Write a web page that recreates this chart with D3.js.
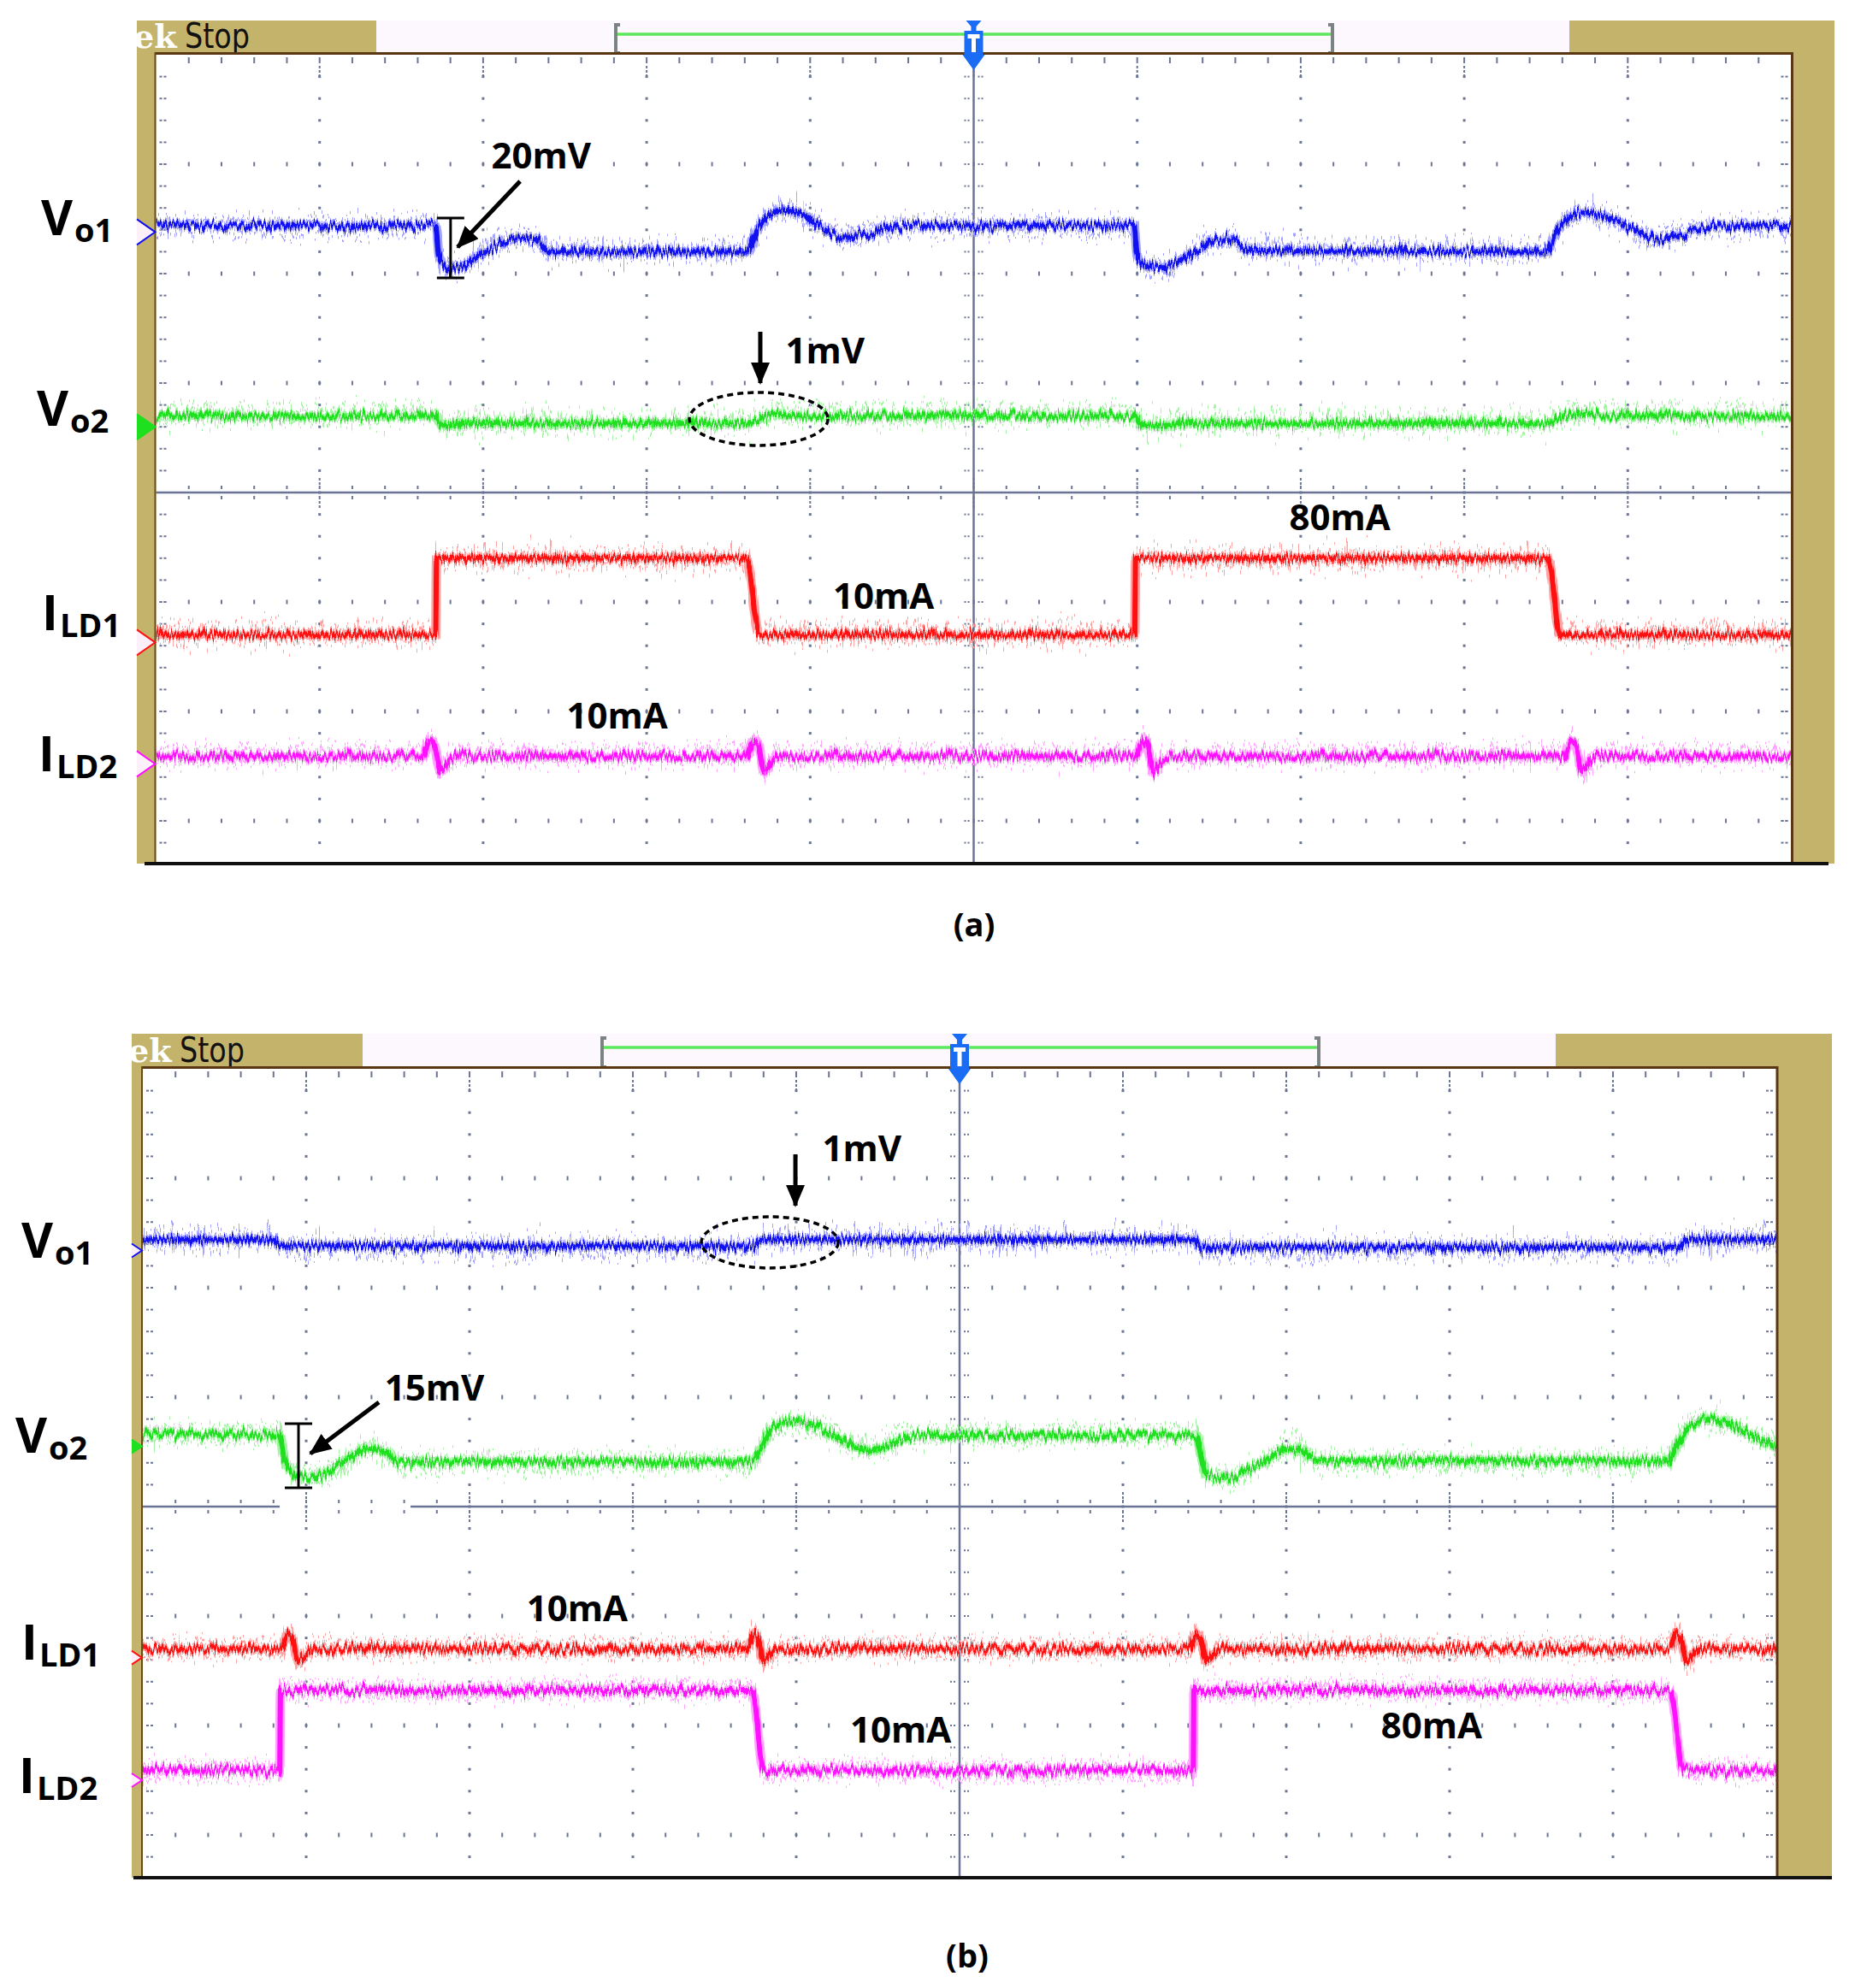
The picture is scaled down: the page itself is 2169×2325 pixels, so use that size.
<!DOCTYPE html>
<html>
<head>
<meta charset="utf-8">
<script src="https://cdn.jsdelivr.net/npm/d3@7"></script>
<style>
  body { margin: 0; background: #fff; }
  svg { display: block; }
</style>
</head>
<body>
<svg width="2169" height="2325"></svg>
<script>
// scope traces, time in divisions (0..10), level in divisions from centre (+4 top, -4 bottom)

// ---- panel (a) ----
var vo1A = [[0,2.44],[1.71,2.44],[1.73,2.16],[1.78,2.05],[1.84,2.05],[1.97,2.16],[2.13,2.29],[2.25,2.32],[2.34,2.30],[2.40,2.20],
  [3.62,2.20],[3.67,2.39],[3.75,2.53],[3.83,2.58],[3.94,2.55],[4.07,2.43],[4.20,2.34],[4.33,2.36],[4.49,2.42],[4.59,2.44],
  [5.98,2.44],[6.00,2.16],[6.05,2.08],[6.16,2.06],[6.26,2.12],[6.39,2.23],[6.50,2.31],[6.60,2.29],[6.68,2.21],
  [8.50,2.20],[8.57,2.39],[8.64,2.51],[8.72,2.56],[8.88,2.51],[9.04,2.39],[9.19,2.31],[9.38,2.38],[9.51,2.43],[10,2.44]];
var vo2A = [[0,0.70],[1.71,0.70],[1.74,0.62],[1.80,0.61],[1.90,0.63],[3.62,0.63],[3.70,0.68],[3.80,0.72],[3.95,0.70],
  [5.98,0.70],[6.02,0.62],[6.15,0.61],[6.30,0.63],[8.50,0.63],[8.58,0.68],[8.70,0.72],[8.85,0.70],[10,0.70]];
var ild1A = [[0,-1.30],[1.71,-1.30],[1.715,-0.60],[3.61,-0.60],[3.69,-1.30],[5.985,-1.30],[5.99,-0.60],[8.51,-0.60],[8.59,-1.30],[10,-1.30]];
var ild2A = [[0,-2.41],[1.63,-2.41],[1.67,-2.27],[1.70,-2.30],[1.74,-2.55],[1.79,-2.45],[1.84,-2.41],
  [3.61,-2.41],[3.65,-2.27],[3.68,-2.30],[3.72,-2.55],[3.77,-2.45],[3.82,-2.41],
  [5.99,-2.41],[6.03,-2.27],[6.06,-2.30],[6.10,-2.55],[6.15,-2.45],[6.20,-2.41],
  [8.61,-2.41],[8.65,-2.27],[8.68,-2.30],[8.72,-2.55],[8.77,-2.45],[8.82,-2.41],[10,-2.41]];

// ---- panel (b) ----
var vo1B = [[0,2.44],[0.80,2.44],[0.84,2.38],[3.73,2.38],[3.79,2.44],[6.44,2.44],[6.47,2.37],[9.41,2.37],[9.45,2.44],[10,2.44]];
var vo2B = [[0,0.66],[0.84,0.66],[0.86,0.48],[0.91,0.31],[0.98,0.27],[1.12,0.31],[1.27,0.45],[1.38,0.53],[1.48,0.50],[1.57,0.41],
  [3.73,0.41],[3.79,0.56],[3.86,0.73],[4.01,0.78],[4.15,0.72],[4.31,0.58],[4.45,0.51],[4.57,0.56],[4.73,0.65],
  [6.45,0.65],[6.48,0.45],[6.52,0.29],[6.67,0.27],[6.82,0.37],[7.02,0.53],[7.11,0.50],[7.19,0.42],
  [9.34,0.42],[9.39,0.56],[9.47,0.73],[9.60,0.81],[9.75,0.73],[9.91,0.60],[10,0.54]];
var ild1B = [[0,-1.30],[0.85,-1.30],[0.89,-1.16],[0.92,-1.22],[0.95,-1.41],[1.00,-1.34],[1.04,-1.30],
  [3.70,-1.30],[3.74,-1.16],[3.77,-1.22],[3.80,-1.41],[3.85,-1.34],[3.89,-1.30],
  [6.41,-1.30],[6.45,-1.16],[6.48,-1.22],[6.51,-1.41],[6.56,-1.34],[6.60,-1.30],
  [9.35,-1.30],[9.39,-1.16],[9.42,-1.22],[9.45,-1.41],[9.50,-1.34],[9.54,-1.30],[10,-1.30]];
var ild2B = [[0,-2.41],[0.838,-2.41],[0.843,-1.68],[3.73,-1.68],[3.80,-2.41],[6.43,-2.41],[6.435,-1.68],[9.35,-1.68],[9.43,-2.41],[10,-2.41]];

// channel ground markers (div)
var markA = [2.38, 0.60, -1.37, -2.48];
var markB = [2.34, 0.55, -1.38, -2.50];

var colors = ["#1010f0", "#1ee01e", "#ff1010", "#ff10ff"];
var lights = ["#a4a4ff", "#a4f2a4", "#ffa4a4", "#ffa4ff"];

// annotations (div coords)
var textsA = [["20mV",2.05,2.96],["1mV",3.85,1.18],["80mA",6.93,-0.34],["10mA",4.14,-1.06],["10mA",2.51,-2.16]];
var textsB = [["1mV",4.16,3.16],["15mV",1.48,0.97],["10mA",2.35,-1.05],["10mA",4.33,-2.16],["80mA",7.58,-2.12]];
var arrowsA = [[2.226,2.844,1.844,2.242],[3.695,1.469,3.695,1.0]];
var arrowsB = [[1.445,0.953,1.026,0.484],[3.995,3.219,3.995,2.75]];
var barsA = [[1.801,2.508,1.961]];
var barsB = [[0.953,0.758,0.172]];
var ellA = [[3.685,0.672,0.424,0.242]];
var ellB = [[3.838,2.414,0.419,0.234]];

var labelsA = [["V","o1",48,2.35],["V","o2",43,0.61],["I","LD1",49,-1.26],["I","LD2",45,-2.55]];
var labelsB = [["V","o1",25,2.27],["V","o2",18,0.49],["I","LD1",25,-1.40],["I","LD2",22,-2.62]];

var svg = d3.select("svg");
var defs = svg.append("defs");
var font = "'Open Sans', 'DejaVu Sans', sans-serif";
var gridCol = "#6c7694";
var tan = "#c4b46b";

function noiseFilter(id, freq, oct, scale, seed) {
  var f = defs.append("filter").attr("id", id)
    .attr("filterUnits", "userSpaceOnUse")
    .attr("x", 0).attr("y", 0).attr("width", 2169).attr("height", 2325)
    .attr("color-interpolation-filters", "sRGB");
  f.append("feTurbulence").attr("type", "fractalNoise").attr("baseFrequency", freq)
    .attr("numOctaves", oct).attr("seed", seed).attr("result", "t");
  f.append("feColorMatrix").attr("in", "t").attr("type", "matrix")
    .attr("values", "0 0 0 0 0.5  0 1 0 0 0  0 0 0 0 0  0 0 0 0 1").attr("result", "m");
  f.append("feDisplacementMap").attr("in", "SourceGraphic").attr("in2", "m")
    .attr("scale", scale).attr("xChannelSelector", "R").attr("yChannelSelector", "G");
}
noiseFilter("fuzz", "0.55 0.02", 1, 84, 4);
noiseFilter("fuzz2", "0.35 0.02", 1, 60, 21);
noiseFilter("jit", "0.45 0.02", 2, 22, 9);

defs.append("marker").attr("id", "head")
  .attr("markerUnits", "userSpaceOnUse")
  .attr("markerWidth", 26).attr("markerHeight", 22)
  .attr("refX", 24).attr("refY", 11).attr("orient", "auto")
  .append("path").attr("d", "M0,0 L26,11 L0,22 Z").attr("fill", "#000");

function drawPanel(p, traces, marks, texts, arrows, bars, ells, labels) {
  var g = svg.append("g");
  var x = d3.scaleLinear().domain([0, 10]).range([p.left, p.right]);
  var y = d3.scaleLinear().domain([4, -4]).range([p.top, p.top + 1024]);
  var bottom = p.clipB;

  // header strip and bezel
  g.append("rect").attr("x", p.headTanEnd).attr("y", p.headTop)
    .attr("width", p.headTanRight - p.headTanEnd).attr("height", p.top - p.headTop).attr("fill", "#fdf8fd");
  g.append("rect").attr("x", p.tanL).attr("y", p.headTop)
    .attr("width", p.headTanEnd - p.tanL).attr("height", p.top - p.headTop).attr("fill", tan);
  g.append("rect").attr("x", p.headTanRight).attr("y", p.headTop)
    .attr("width", p.tanR - p.headTanRight).attr("height", p.top - p.headTop).attr("fill", tan);
  g.append("rect").attr("x", p.tanL).attr("y", p.headTop)
    .attr("width", p.left - p.tanL).attr("height", bottom - p.headTop).attr("fill", tan);
  g.append("rect").attr("x", p.right).attr("y", p.headTop)
    .attr("width", p.tanR - p.right).attr("height", bottom - p.headTop).attr("fill", tan);

  // Tek / Stop
  var cid = "clip" + p.id;
  defs.append("clipPath").attr("id", cid + "h").append("rect")
    .attr("x", p.tanL).attr("y", p.headTop).attr("width", p.headTanEnd - p.tanL).attr("height", p.top - p.headTop);
  var hd = g.append("g").attr("clip-path", "url(#" + cid + "h)");
  hd.append("text").attr("x", p.tanL - 4).attr("y", p.top - 8)
    .attr("font-family", "'DejaVu Serif', serif").attr("font-weight", "bold")
    .attr("font-size", 38).attr("fill", "#fff").text("ek");
  hd.append("text").attr("x", p.tanL + 56).attr("y", p.top - 8)
    .attr("font-family", "'Liberation Sans Narrow', 'DejaVu Sans Condensed', sans-serif")
    .attr("font-size", 40).attr("fill", "#111")
    .attr("textLength", 76).attr("lengthAdjust", "spacingAndGlyphs").text("Stop");

  // record-length bar
  var ly = p.headTop + 16;
  g.append("line").attr("x1", p.brL).attr("x2", p.brR).attr("y1", ly).attr("y2", ly)
    .attr("stroke", "#5ce85c").attr("stroke-width", 3.5);
  [[p.brL, 1], [p.brR, -1]].forEach(function(b) {
    g.append("path")
      .attr("d", "M" + (b[0] + 5 * b[1]) + "," + (p.headTop + 5) + " H" + b[0] + " V" + (p.top - 2) + " H" + (b[0] + 5 * b[1]))
      .attr("fill", "none").attr("stroke", "#7c8482").attr("stroke-width", 4);
  });

  // graticule area
  g.append("rect").attr("x", p.left).attr("y", p.top)
    .attr("width", p.right - p.left).attr("height", bottom - p.top).attr("fill", "#fff");

  var minorX = d3.range(0, 51).map(function(i) { return i / 5; });
  var minorY = d3.range(0, 41).map(function(j) { return -4 + j / 5; })
    .filter(function(v) { return y(v) > p.top + 2 && y(v) < bottom - 4; });
  var gr = g.append("g").attr("fill", gridCol);

  [1, 2, 3, 4, 6, 7, 8, 9].forEach(function(k) {
    minorY.forEach(function(v) {
      gr.append("rect").attr("x", x(k) - 1.5).attr("y", y(v) - 1.5).attr("width", 3).attr("height", 3);
    });
  });
  [3, 2, 1, -1, -2, -3].filter(function(r) { return y(r) < bottom - 4; }).forEach(function(r) {
    minorX.forEach(function(u) {
      if (u <= 0 || u >= 10) return;
      gr.append("rect").attr("x", x(u) - 1).attr("y", y(r) - 2.5).attr("width", 2).attr("height", 5);
    });
    [[p.left + 4], [p.left + 9], [p.right - 7], [p.right - 12]].forEach(function(q) {
      gr.append("rect").attr("x", q[0]).attr("y", y(r) - 1).attr("width", 3).attr("height", 2);
    });
  });
  // centre lines with ticks
  minorY.forEach(function(v) {
    [-11, -7, 5, 9].forEach(function(o) {
      gr.append("rect").attr("x", x(5) + o).attr("y", y(v) - 1).attr("width", 2).attr("height", 2);
    });
    [4, 9].forEach(function(o) {
      gr.append("rect").attr("x", p.left + o).attr("y", y(v) - 1).attr("width", 3).attr("height", 2);
      gr.append("rect").attr("x", p.right - o - 3).attr("y", y(v) - 1).attr("width", 3).attr("height", 2);
    });
  });
  minorX.forEach(function(u) {
    if (u <= 0 || u >= 10) return;
    gr.append("rect").attr("x", x(u) - 1).attr("y", y(0) - 8).attr("width", 2).attr("height", 4);
    gr.append("rect").attr("x", x(u) - 1).attr("y", y(0) + 4).attr("width", 2).attr("height", 4);
    gr.append("rect").attr("x", x(u) - 1).attr("y", p.top + 3).attr("width", 2).attr("height", 7);
    if (Math.abs(u - Math.round(u)) < 1e-6) {
      [-17, -12, 10, 15].forEach(function(o) {
        gr.append("rect").attr("x", x(u) - 1).attr("y", y(0) + o).attr("width", 2).attr("height", 3);
      });
      [13, 18, 23].forEach(function(o) {
        gr.append("rect").attr("x", x(u) - 1).attr("y", p.top + o).attr("width", 2).attr("height", 3);
      });
    }
  });
  var segs = p.gap ? [[0, p.gap[0]], [p.gap[1], 10]] : [[0, 10]];
  segs.forEach(function(s) {
    g.append("line").attr("x1", x(s[0])).attr("x2", x(s[1])).attr("y1", y(0)).attr("y2", y(0))
      .attr("stroke", "#6a7393").attr("stroke-width", 2.5);
  });
  g.append("line").attr("x1", x(5)).attr("x2", x(5)).attr("y1", p.top).attr("y2", bottom)
    .attr("stroke", "#6a7393").attr("stroke-width", 2.5);

  // traces
  defs.append("clipPath").attr("id", cid).append("rect")
    .attr("x", p.left).attr("y", p.top).attr("width", p.right - p.left).attr("height", bottom - p.top);
  var line = d3.line().x(function(d) { return x(d[0]); }).y(function(d) { return y(d[1]); })
    .curve(d3.curveMonotoneX);
  var tg = g.append("g").attr("clip-path", "url(#" + cid + ")");
  traces.forEach(function(t, i) {
    tg.append("path").attr("d", line(t)).attr("fill", "none")
      .attr("stroke", lights[i]).attr("stroke-width", 3.5).attr("filter", "url(#fuzz)");
    tg.append("path").attr("d", line(t)).attr("fill", "none")
      .attr("stroke", lights[i]).attr("stroke-width", 3.5).attr("filter", "url(#fuzz2)");
    tg.append("path").attr("d", line(t)).attr("fill", "none")
      .attr("stroke", lights[i]).attr("stroke-width", 11).attr("filter", "url(#jit)");
    tg.append("path").attr("d", line(t)).attr("fill", "none")
      .attr("stroke", colors[i]).attr("stroke-width", 6).attr("filter", "url(#jit)");
  });

  // frame borders
  g.append("line").attr("x1", p.left - 1).attr("x2", p.right + 1).attr("y1", p.top - 1.5).attr("y2", p.top - 1.5)
    .attr("stroke", "#5a3612").attr("stroke-width", 3);
  g.append("line").attr("x1", p.left - 1).attr("x2", p.left - 1).attr("y1", p.top - 3).attr("y2", bottom)
    .attr("stroke", "#6b4a1a").attr("stroke-width", 2);
  g.append("line").attr("x1", p.right + 1).attr("x2", p.right + 1).attr("y1", p.top - 3).attr("y2", bottom)
    .attr("stroke", "#5a3612").attr("stroke-width", 3);
  g.append("line").attr("x1", p.baseX0).attr("x2", p.baseX1).attr("y1", bottom).attr("y2", bottom)
    .attr("stroke", "#111").attr("stroke-width", 4);

  // trigger marker
  var xc = x(5), h = p.headTop;
  g.append("path")
    .attr("d", "M" + (xc - 9) + "," + h + " H" + (xc + 9) + " L" + (xc + 3) + "," + (h + 7) + " V" + (h + 12) +
      " H" + (xc + 11) + " V" + p.top + " L" + (xc + 13) + "," + p.top + " L" + xc + "," + (p.top + 18) +
      " L" + (xc - 13) + "," + p.top + " L" + (xc - 11) + "," + p.top + " V" + (h + 12) + " H" + (xc - 3) +
      " V" + (h + 7) + " Z")
    .attr("fill", "#1a6cf4");
  g.append("path")
    .attr("d", "M" + (xc - 7) + "," + (h + 16) + " H" + (xc + 7) + " V" + (h + 21) + " H" + (xc + 2.5) +
      " V" + (p.top - 3) + " H" + (xc - 2.5) + " V" + (h + 21) + " H" + (xc - 7) + " Z")
    .attr("fill", "#fff");

  // channel markers on left bezel
  marks.forEach(function(v, i) {
    var yy = y(v);
    g.append("path")
      .attr("d", "M" + p.tanL + "," + (yy - p.markH) + " L" + (p.left - 1) + "," + yy + " L" + p.tanL + "," + (yy + p.markH))
      .attr("fill", i === 1 ? colors[1] : "#fdf0fa").attr("stroke", colors[i]).attr("stroke-width", 2);
  });

  // annotations
  texts.forEach(function(t) {
    g.append("text").attr("x", x(t[1])).attr("y", y(t[2]))
      .attr("font-family", font).attr("font-weight", "bold").attr("font-size", 42).text(t[0]);
  });
  arrows.forEach(function(a) {
    g.append("line").attr("x1", x(a[0])).attr("y1", y(a[1])).attr("x2", x(a[2])).attr("y2", y(a[3]))
      .attr("stroke", "#000").attr("stroke-width", 5).attr("marker-end", "url(#head)");
  });
  bars.forEach(function(b) {
    var bx = x(b[0]);
    g.append("line").attr("x1", bx).attr("x2", bx).attr("y1", y(b[1])).attr("y2", y(b[2]))
      .attr("stroke", "#000").attr("stroke-width", 3);
    [b[1], b[2]].forEach(function(v) {
      g.append("line").attr("x1", bx - 16).attr("x2", bx + 16).attr("y1", y(v)).attr("y2", y(v))
        .attr("stroke", "#000").attr("stroke-width", 3);
    });
  });
  ells.forEach(function(e) {
    g.append("ellipse").attr("cx", x(e[0])).attr("cy", y(e[1]))
      .attr("rx", x(e[0] + e[2]) - x(e[0])).attr("ry", y(e[1] - e[3]) - y(e[1]))
      .attr("fill", "none").attr("stroke", "#000").attr("stroke-width", 3.5).attr("stroke-dasharray", "7 5");
  });

  // channel names
  labels.forEach(function(l) {
    var t = g.append("text").attr("x", l[2]).attr("y", y(l[3]))
      .attr("font-family", font).attr("font-weight", "bold").attr("font-size", 57);
    t.append("tspan").text(l[0]);
    t.append("tspan").attr("font-size", 38).attr("dy", 8).attr("dx", 2).text(l[1]);
  });

  // caption
  svg.append("text").attr("x", p.capX).attr("y", p.capY).attr("text-anchor", "middle")
    .attr("font-family", font).attr("font-weight", "bold").attr("font-size", 38).text(p.caption);
}

drawPanel({ id: "a", left: 182.5, right: 2094.5, top: 64, clipB: 1010, headTop: 24, tanL: 160, tanR: 2145,
    headTanEnd: 440, headTanRight: 1835, brL: 720, brR: 1558, baseX0: 169, baseX1: 2138,
    markW: 21, markH: 15, gap: null, caption: "(a)", capX: 1139, capY: 1095 },
  [vo1A, vo2A, ild1A, ild2A], markA, textsA, arrowsA, barsA, ellA, labelsA);

drawPanel({ id: "b", left: 167, right: 2077, top: 1250, clipB: 2196, headTop: 1209, tanL: 154, tanR: 2142,
    headTanEnd: 424, headTanRight: 1819, brL: 704, brR: 1542, baseX0: 156, baseX1: 2142,
    markW: 12, markH: 8, gap: [0.838, 1.639], caption: "(b)", capX: 1131, capY: 2301 },
  [vo1B, vo2B, ild1B, ild2B], markB, textsB, arrowsB, barsB, ellB, labelsB);
</script>
</body>
</html>
